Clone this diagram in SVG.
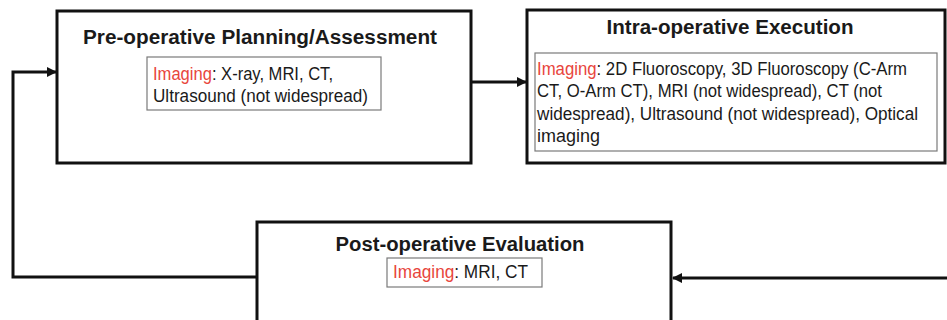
<svg xmlns="http://www.w3.org/2000/svg" width="947" height="320" viewBox="0 0 947 320">
  <style>
    .box { fill: #ffffff; stroke: #111111; stroke-width: 3; }
    .inner { fill: #ffffff; stroke: #7a7a7a; stroke-width: 1.2; }
    .title { font-family: "Liberation Sans", Arial, sans-serif; font-weight: bold; font-size: 20px; fill: #1a1a1a; text-anchor: middle; }
    .body { font-family: "Liberation Sans", Arial, sans-serif; font-size: 17.5px; fill: #1a1a1a; }
    .red { fill: #e8453c; }
    .wire { fill: none; stroke: #111111; stroke-width: 3; }
  </style>
  <defs>
    <marker id="head" viewBox="0 0 10 10" refX="9" refY="5" markerWidth="3.4" markerHeight="3.4" orient="auto" markerUnits="strokeWidth">
      <path d="M0,0 L10,5 L0,10 Z" fill="#111111"/>
    </marker>
  </defs>

  <rect width="947" height="320" fill="#ffffff"/>

  <!-- connectors -->
  <g id="connectors">
    <path class="wire" d="M471,82 H526" marker-end="url(#head)"/>
    <path class="wire" d="M947,278 H673" marker-end="url(#head)"/>
    <path class="wire" d="M257,277 H13 V72 H56" marker-end="url(#head)"/>
  </g>

  <!-- pre-operative stage -->
  <g id="preop">
    <rect class="box" x="57" y="11" width="414" height="152"/>
    <text class="title" x="260" y="44" textLength="354" lengthAdjust="spacingAndGlyphs">Pre-operative Planning/Assessment</text>
    <rect class="inner" x="147" y="57" width="234" height="53"/>
    <text class="body" x="153" y="80" textLength="180" lengthAdjust="spacingAndGlyphs"><tspan class="red">Imaging</tspan>: X-ray, MRI, CT,</text>
    <text class="body" x="153" y="102" textLength="215" lengthAdjust="spacingAndGlyphs">Ultrasound (not widespread)</text>
  </g>

  <!-- intra-operative stage -->
  <g id="intraop">
    <rect class="box" x="527" y="10" width="418" height="153"/>
    <text class="title" x="730" y="34" textLength="247" lengthAdjust="spacingAndGlyphs">Intra-operative Execution</text>
    <rect class="inner" x="535" y="53" width="402" height="98"/>
    <text class="body" x="537" y="75" textLength="370" lengthAdjust="spacingAndGlyphs"><tspan class="red">Imaging</tspan>: 2D Fluoroscopy, 3D Fluoroscopy (C-Arm</text>
    <text class="body" x="537" y="97" textLength="345" lengthAdjust="spacingAndGlyphs">CT, O-Arm CT), MRI (not widespread), CT (not</text>
    <text class="body" x="537" y="120" textLength="381" lengthAdjust="spacingAndGlyphs">widespread), Ultrasound (not widespread), Optical</text>
    <text class="body" x="537" y="142" textLength="63" lengthAdjust="spacingAndGlyphs">imaging</text>
  </g>

  <!-- post-operative stage -->
  <g id="postop">
    <rect class="box" x="257" y="222" width="414" height="110"/>
    <text class="title" x="460" y="251" textLength="249" lengthAdjust="spacingAndGlyphs">Post-operative Evaluation</text>
    <rect class="inner" x="387" y="258" width="155" height="29"/>
    <text class="body" x="393" y="278" textLength="135" lengthAdjust="spacingAndGlyphs"><tspan class="red">Imaging</tspan>: MRI, CT</text>
  </g>
</svg>
